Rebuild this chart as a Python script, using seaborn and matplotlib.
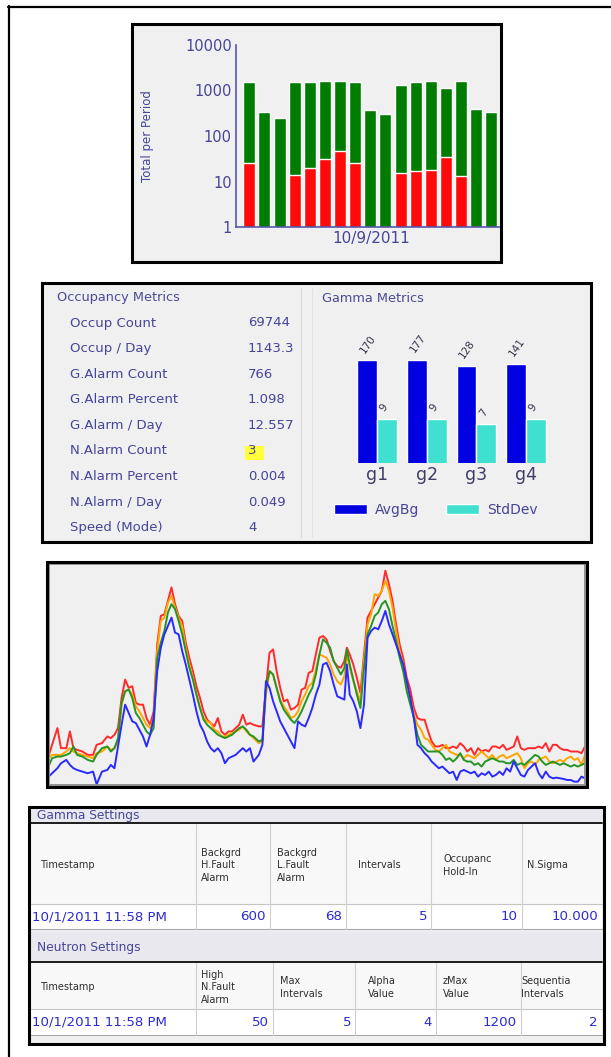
import numpy as np
import pandas as pd
import matplotlib
matplotlib.use("Agg")
import matplotlib.pyplot as plt
from matplotlib.patches import Rectangle
from matplotlib.ticker import NullLocator
import seaborn as sns

sns.set_style("white")
plt.rcParams["font.family"] = ["DejaVu Sans"]

# ---------------- data ----------------
# occupancies and gamma alarms per period, 10/9/2011
periods = ["00", "01", "02", "03", "04", "05", "06", "07", "08",
           "09", "10", "11", "12", "13", "14", "15", "16"]
occupancies = [1560, 340, 250, 1560, 1560, 1640, 1640, 1560, 370,
               300, 1320, 1560, 1640, 1110, 1640, 390, 340]
gamma_alarms = [26, 0, 0, 14, 20, 31, 46, 26, 0,
                0, 15, 17, 18, 34, 13, 0, 0]

# occupancy metrics
occ_labels = ["Occup Count", "Occup / Day", "G.Alarm Count", "G.Alarm Percent",
              "G.Alarm / Day", "N.Alarm Count", "N.Alarm Percent",
              "N.Alarm / Day", "Speed (Mode)"]
occ_values = ["69744", "1143.3", "766", "1.098", "12.557", "3", "0.004",
              "0.049", "4"]

# gamma metrics per detector
detectors = ["g1", "g2", "g3", "g4"]
avg_bg = [170, 177, 128, 141]
std_dev = [9, 9, 7, 9]

# gamma background trace, four channels
t_samples = ([0, 10, 25, 35, 50, 60, 70, 80, 95, 110, 125, 135, 150, 165, 175, 185]
             + list(range(195, 576, 10)) + [590] + list(range(600, 831, 10))
             + [837] + list(range(845, 1506, 10)))
trace_red = [85, 120, 170, 110, 110, 160, 110, 105, 100, 90, 90, 120, 125, 145, 140, 150,
             170, 260, 315, 290, 295, 245, 240, 240, 200, 180, 220, 420, 505, 510, 550, 590,
             540, 505, 490, 425, 380, 340, 295, 260, 220, 195, 185, 175, 200, 160, 150, 160,
             160, 170, 180, 210, 180, 185, 180,
             175,
             175, 290, 395, 405, 340, 290, 250, 255, 225, 230, 240, 285, 290, 335, 340, 390,
             440, 445, 435, 400, 370, 355, 350, 370,
             410,
             390, 360, 320, 275, 390, 500, 520, 540, 560, 580, 640, 600, 550, 480, 420, 380,
             320, 285, 230, 200, 195, 195, 160, 130, 115, 115, 120, 110, 110, 115, 110, 125,
             115, 100, 110, 90, 110, 100, 105, 100, 115, 115, 110, 120, 105, 110, 115, 145,
             110, 105, 110, 110, 110, 115, 110, 125, 100, 120, 120, 110, 105, 105, 100, 100,
             100, 95, 115]
trace_orange = [80, 90, 90, 90, 100, 110, 100, 95, 90, 85, 80, 95, 100, 115, 105, 110,
                130, 240, 280, 285, 270, 235, 220, 200, 180, 170, 200, 400, 490, 500, 545, 565,
                530, 500, 475, 410, 360, 320, 270, 230, 200, 190, 185, 165, 160, 145, 145, 150,
                155, 160, 165, 175, 160, 150, 140,
                125,
                130, 270, 340, 330, 290, 255, 235, 220, 200, 205, 220, 250, 270, 295, 305, 345,
                390, 385, 380, 360, 330, 310, 300, 325,
                390,
                350, 310, 280, 250, 370, 480, 510, 570, 565, 580, 610, 580, 530, 460, 400, 360,
                290, 260, 210, 180, 165, 140, 135, 120, 105, 100, 110, 120, 100, 95, 90, 90,
                80, 90, 85, 80, 90, 100, 90, 80, 90, 75, 85, 90, 80, 85, 90, 95,
                80, 50, 65, 70, 60, 75, 80, 85, 70, 65, 70, 75, 70, 80, 85, 75,
                80, 60, 90]
trace_green = [55, 80, 85, 85, 90, 95, 115, 90, 85, 75, 70, 90, 110, 115, 100, 110,
               140, 245, 280, 285, 260, 215, 200, 180, 160, 150, 170, 380, 425, 460, 515, 540,
               525, 490, 450, 400, 350, 315, 270, 230, 195, 180, 170, 160, 150, 145, 140, 145,
               150, 160, 170, 175, 165, 150, 145,
               130,
               135, 290, 340, 330, 290, 250, 225, 210, 195, 185, 200, 220, 245, 270, 290, 330,
               390, 435, 425, 410, 370, 350, 330, 350,
               405,
               360, 315, 270, 230, 350, 450, 475, 505, 515, 540, 550, 525, 475, 430, 380, 340,
               280, 240, 200, 150, 120, 110, 100, 100, 100, 100, 90, 75, 80, 70, 80, 95,
               75, 70, 70, 60, 65, 55, 70, 75, 80, 75, 70, 70, 65, 65, 75, 60,
               65, 60, 70, 80, 90, 85, 70, 60, 65, 70, 65, 60, 65, 60, 55, 60,
               55, 60, 65]
trace_blue = [25, 35, 50, 65, 75, 60, 50, 45, 40, 35, 40, 2, 40, 45, 60, 50,
              115, 180, 240, 215, 190, 185, 165, 145, 115, 150, 200, 340, 410, 450, 475, 500,
              455, 450, 400, 360, 315, 270, 220, 180, 160, 130, 110, 100, 110, 95, 65, 80,
              85, 90, 100, 110, 100, 110, 70,
              90,
              120, 310, 290, 250, 220, 190, 170, 150, 130, 110, 190, 180, 175, 200, 230, 270,
              300, 360, 365, 340, 300, 265, 260, 255,
              360,
              270, 250, 220, 170, 240, 440, 460, 470, 465, 490, 520, 480, 450, 420, 390, 360,
              310, 260, 200, 120, 110, 95, 85, 70, 60, 50, 55, 45, 35, 40, 15, 40,
              45, 40, 35, 40, 25, 35, 30, 40, 25, 30, 40, 30, 50, 40, 70, 50,
              30, 25, 45, 55, 65, 35, 20, 40, 25, 20, 22, 20, 18, 15, 15, 10,
              10, 25, 20]

# settings tables
gamma_headers = ["Timestamp", "Backgrd\nH.Fault\nAlarm", "Backgrd\nL.Fault\nAlarm",
                 "Intervals", "Occupanc\nHold-In", "N.Sigma"]
gamma_row = ["10/1/2011 11:58 PM", "600", "68", "5", "10", "10.000"]
neutron_headers = ["Timestamp", "High\nN.Fault\nAlarm", "Max\nIntervals",
                   "Alpha\nValue", "zMax\nValue", "Sequentia\nIntervals"]
neutron_row = ["10/1/2011 11:58 PM", "50", "5", "4", "1200", "2"]

# ---------------- style ----------------
W, H, DPI = 611, 1057, 100
PANEL_BG = "#f0f0f0"
AXIS_BLUE = "#5656b0"
LABEL_TXT = "#45459a"
GREEN, RED = "#007c00", "#ff0a0a"
BLUE_BAR, CYAN_BAR = "#0000e0", "#40e0d0"
LINE_COLORS = {"g1": "#ff2a2a", "g2": "#ffa500", "g3": "#259525", "g4": "#2a2aff"}

fig = plt.figure(figsize=(W / DPI, H / DPI), dpi=DPI)
fig.patch.set_facecolor("white")


def px_axes(x0, y0, x1, y1, **kw):
    return fig.add_axes([x0 / W, 1 - y1 / H, (x1 - x0) / W, (y1 - y0) / H], **kw)


bg = fig.add_axes([0, 0, 1, 1], zorder=0)
bg.set_xlim(0, W)
bg.set_ylim(H, 0)
bg.axis("off")
for (x0, y0, x1, y1) in [(131, 23, 501, 262), (41, 282, 591, 542),
                         (46, 561, 588, 787), (28, 806, 604, 1044)]:
    bg.add_patch(Rectangle((x0, y0), x1 - x0, y1 - y0, fc=PANEL_BG, ec="none"))

ov = fig.add_axes([0, 0, 1, 1], zorder=5)
ov.set_xlim(0, W)
ov.set_ylim(H, 0)
ov.axis("off")

# ---------------- occupancy totals (log bars) ----------------
ax1 = px_axes(236, 45, 500, 227, zorder=2)
ax1.set_facecolor("none")
df_occ = pd.DataFrame({"period": periods, "occupancies": occupancies,
                       "alarms": gamma_alarms})
sns.barplot(data=df_occ, x="period", y="occupancies", order=periods, color=GREEN,
            saturation=1, width=0.79, ax=ax1)
sns.barplot(data=df_occ[df_occ["alarms"] > 0], x="period", y="alarms", order=periods,
            color=RED, saturation=1, width=0.79, ax=ax1)
ax1.set_yscale("log")
ax1.set_ylim(1, 10000)
ax1.set_xlim(-0.88, 16.57)
ax1.set_yticks([1, 10, 100, 1000, 10000], labels=["1", "10", "100", "1000", "10000"])
ax1.yaxis.set_minor_locator(NullLocator())
ax1.tick_params(axis="y", length=0, pad=3, labelsize=10.5, labelcolor=LABEL_TXT)
ax1.tick_params(axis="x", length=0, labelbottom=False)
ax1.set_xlabel("")
ax1.set_ylabel("")
for side in ["top", "right"]:
    ax1.spines[side].set_visible(False)
for side in ["left", "bottom"]:
    ax1.spines[side].set_color(AXIS_BLUE)
    ax1.spines[side].set_linewidth(1.2)
ov.text(148, 136, "Total per Period", rotation=90, ha="center", va="center",
        fontsize=8.5, color=LABEL_TXT)
ov.text(371, 238, "10/9/2011", ha="center", va="center", fontsize=11, color=LABEL_TXT)

# ---------------- occupancy metrics ----------------
ov.text(57, 298, "Occupancy Metrics", ha="left", va="center", fontsize=9.3, color="#4a4a98")
ov.add_patch(Rectangle((244.5, 445.5), 19, 14, fc="#ffff3a", ec="none", zorder=1))
for i, (lab, val) in enumerate(zip(occ_labels, occ_values)):
    y = 323 + i * 25.6
    ov.text(70, y, lab, ha="left", va="center", fontsize=9.5, color=LABEL_TXT, zorder=3)
    ov.text(248, y, val, ha="left", va="center", fontsize=9.5, color=LABEL_TXT, zorder=3)
ov.plot([301, 301], [288, 537], color="#dadada", lw=0.8)
ov.plot([312, 312], [288, 537], color="#e2e2e2", lw=0.8)
ov.text(322, 298, "Gamma Metrics", ha="left", va="center", fontsize=9.3, color="#4a4a98")

# ---------------- gamma metrics (log bars) ----------------
ax2 = px_axes(330, 300, 570, 463, zorder=2)
ax2.set_facecolor("none")
df_gm = pd.DataFrame({
    "detector": detectors * 2,
    "value": avg_bg + std_dev,
    "metric": ["AvgBg"] * len(detectors) + ["StdDev"] * len(detectors),
})
sns.barplot(data=df_gm, x="detector", y="value", hue="metric", order=detectors,
            hue_order=["AvgBg", "StdDev"],
            palette={"AvgBg": BLUE_BAR, "StdDev": CYAN_BAR}, saturation=1, ax=ax2)
ax2.set_yscale("log")
ax2.set_ylim(1, 10 ** ((463 - 300) / 46))
ax2.set_xlim((330 - 377) / 49.7, (570 - 377) / 49.7)
for cont, vals in zip(ax2.containers, [avg_bg, std_dev]):
    for rect, v in zip(cont, vals):
        cx = rect.get_x() + rect.get_width() / 2
        ax2.annotate(f"{v}", (cx, v), xytext=(-0.5, 4), textcoords="offset points",
                     rotation=55, rotation_mode="anchor", ha="left", va="bottom",
                     fontsize=7.5, color="#33334d")
ax2.set_yticks([])
ax2.yaxis.set_minor_locator(NullLocator())
ax2.tick_params(axis="x", length=0, pad=2, labelsize=12.5, labelcolor="#3f3f66")
ax2.set_xlabel("")
ax2.set_ylabel("")
for s in ax2.spines.values():
    s.set_visible(False)
sns.move_legend(ax2, "center", bbox_to_anchor=(436 / W, 1 - 510 / H),
                bbox_transform=fig.transFigure, ncol=2, frameon=False, title=None,
                fontsize=10, handlelength=2.35, handleheight=0.75, handletextpad=0.6,
                columnspacing=1.9, labelcolor=LABEL_TXT)

# ---------------- gamma trace ----------------
ax3 = px_axes(48.5, 564, 585, 785, zorder=2)
ax3.set_facecolor(PANEL_BG)
df_tr = pd.DataFrame({
    "t": t_samples * 4,
    "level": trace_red + trace_orange + trace_green + trace_blue,
    "channel": (["g1"] * len(t_samples) + ["g2"] * len(t_samples)
                + ["g3"] * len(t_samples) + ["g4"] * len(t_samples)),
})
sns.lineplot(data=df_tr, x="t", y="level", hue="channel", palette=LINE_COLORS,
             hue_order=["g1", "g2", "g3", "g4"], linewidth=1.4, legend=False, ax=ax3)
ax3.set_xlim(0, 1505)
ax3.set_ylim(0, 660)
ax3.set_xticks([])
ax3.set_yticks([])
ax3.set_xlabel("")
ax3.set_ylabel("")
for s in ax3.spines.values():
    s.set_color("#8c8c8c")
    s.set_linewidth(1.3)

# ---------------- settings tables ----------------
gamma_edges = [30, 196, 270, 346, 431, 522, 602]
neutron_edges = [30, 196, 273, 355, 436, 521, 602]
gamma_head_x = [40, 201, 277, 358, 443, 527]
neutron_head_x = [40, 201, 280, 368, 443, 521]


def draw_settings(title, strip_top, head_top, data_top, data_bot, headers, values,
                  edges, head_x):
    x0, x1 = edges[0], edges[-1]
    ov.add_patch(Rectangle((x0, strip_top), x1 - x0, head_top - strip_top,
                           fc="#e8e8ee", ec="none", zorder=1))
    ov.text(37, (strip_top + head_top) / 2, title, ha="left", va="center",
            fontsize=8.8, color="#46469a", zorder=3)
    ov.add_patch(Rectangle((x0, head_top), x1 - x0, data_top - head_top,
                           fc="#f8f8f8", ec="none", zorder=1))
    ov.add_patch(Rectangle((x0, data_top), x1 - x0, data_bot - data_top,
                           fc="white", ec="none", zorder=1))
    ov.plot([x0, x1], [head_top, head_top], color="#1c1c1c", lw=1.4, zorder=2)
    ov.plot([x0, x1], [data_top, data_top], color="#c4c4c4", lw=0.8, zorder=2)
    ov.plot([x0, x1], [data_bot, data_bot], color="#a8a8a8", lw=0.8, zorder=2)
    for e in edges[1:-1]:
        ov.plot([e, e], [head_top + 1, data_bot], color="#d0d0d0", lw=0.8, zorder=2)
    head_cy = (head_top + data_top) / 2 + 2
    data_cy = (data_top + data_bot) / 2
    for i, (h, v) in enumerate(zip(headers, values)):
        ov.text(head_x[i], head_cy, h, ha="left", va="center", fontsize=7,
                color="#2e2e2e", linespacing=1.3, zorder=3)
        if i == 0:
            ov.text(32, data_cy, v, ha="left", va="center", fontsize=9.6,
                    color="#2b2bd0", zorder=3)
        else:
            ov.text(edges[i + 1] - 4, data_cy, v, ha="right", va="center",
                    fontsize=9.6, color="#2b2bd0", zorder=3)


draw_settings("Gamma Settings", 808, 823, 904, 929, gamma_headers, gamma_row,
              gamma_edges, gamma_head_x)
draw_settings("Neutron Settings", 932, 962, 1009, 1035, neutron_headers, neutron_row,
              neutron_edges, neutron_head_x)

# ---------------- frames ----------------
for (x0, y0, x1, y1) in [(131.5, 23.5, 500.5, 261.5), (41.5, 282.5, 590.5, 541.5),
                         (46.5, 561.5, 587, 786.5), (28.5, 806.5, 603.5, 1043.5)]:
    ov.add_patch(Rectangle((x0, y0), x1 - x0, y1 - y0, fc="none", ec="black",
                           lw=2.2, zorder=6))
ov.plot([8.5, 8.5], [6, H], color="black", lw=1.6, zorder=6)
ov.plot([8, W], [6.5, 6.5], color="black", lw=1.6, zorder=6)

fig.savefig("out.png", dpi=DPI)
